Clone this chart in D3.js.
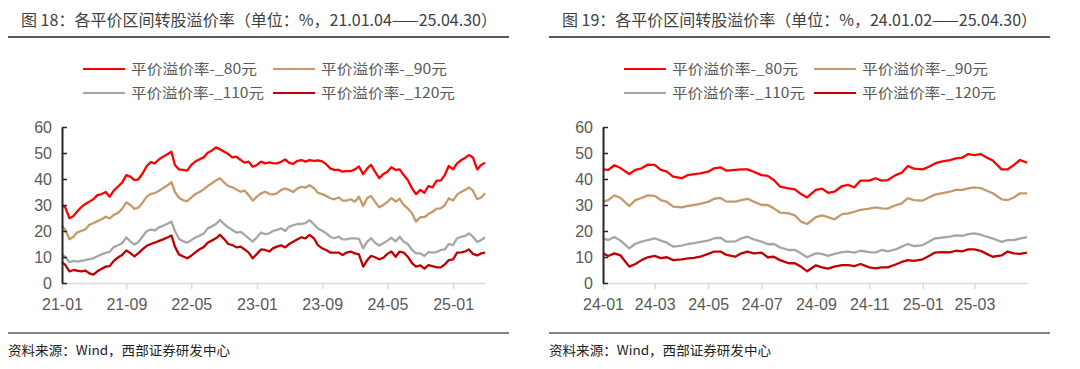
<!DOCTYPE html>
<html><head><meta charset="utf-8">
<script src="https://cdn.jsdelivr.net/npm/d3@7"></script>
<style>body{margin:0;background:#fff}svg{display:block}</style>
</head><body>
<svg id="c" width="1080" height="369"></svg>
<script>
// ---------- DATA ----------
const seriesNames = ["平价溢价率-_80元","平价溢价率-_90元","平价溢价率-_110元","平价溢价率-_120元"];

// Figure 18 (semi-monthly readings, 2021-01-04 .. 2025-04-30)
const dates18 = [
"2021-01-04","2021-01-16","2021-02-01","2021-02-16","2021-03-01","2021-03-16","2021-04-01","2021-04-16","2021-05-01","2021-05-16","2021-06-01","2021-06-16","2021-07-01","2021-07-16","2021-08-01","2021-08-16","2021-09-01","2021-09-16","2021-10-01","2021-10-16","2021-11-01","2021-11-16","2021-12-01","2021-12-16",
"2022-01-01","2022-01-16","2022-02-01","2022-02-16","2022-03-01","2022-03-16","2022-04-01","2022-04-16","2022-05-01","2022-05-16","2022-06-01","2022-06-16","2022-07-01","2022-07-16","2022-08-01","2022-08-16","2022-09-01","2022-09-16","2022-10-01","2022-10-16","2022-11-01","2022-11-16","2022-12-01","2022-12-16",
"2023-01-01","2023-01-16","2023-02-01","2023-02-16","2023-03-01","2023-03-16","2023-04-01","2023-04-16","2023-05-01","2023-05-16","2023-06-01","2023-06-16","2023-07-01","2023-07-16","2023-08-01","2023-08-16","2023-09-01","2023-09-16","2023-10-01","2023-10-16","2023-11-01","2023-11-16","2023-12-01","2023-12-16",
"2024-01-01","2024-01-16","2024-02-01","2024-02-16","2024-03-01","2024-03-16","2024-04-01","2024-04-16","2024-05-01","2024-05-16","2024-06-01","2024-06-16","2024-07-01","2024-07-16","2024-08-01","2024-08-16","2024-09-01","2024-09-16","2024-10-01","2024-10-16","2024-11-01","2024-11-16","2024-12-01","2024-12-16",
"2025-01-01","2025-01-16","2025-02-01","2025-02-16","2025-03-01","2025-03-16","2025-04-01","2025-04-16","2025-04-30"];
const p80_18 = [
30.0,29.1,24.9,25.8,27.4,29.1,30.4,31.3,32.2,33.8,34.2,35.0,33.2,35.5,37.1,38.6,41.5,40.9,39.6,39.9,42.2,45.0,46.5,46.0,47.6,48.6,49.5,50.5,45.4,43.7,43.5,43.2,45.4,46.7,47.6,48.3,
50.1,50.9,52.2,51.4,50.5,49.6,48.3,48.6,47.3,46.3,46.7,44.7,45.4,46.7,46.0,46.4,46.1,46.0,46.6,47.5,46.2,45.8,47.0,47.3,46.7,47.3,47.0,47.2,46.8,45.7,44.1,43.5,43.5,42.8,43.0,43.0,
43.7,44.8,41.9,44.1,45.4,42.8,40.3,41.9,42.8,44.5,43.5,43.7,41.5,39.6,36.4,34.2,35.8,34.7,37.3,36.8,39.4,39.4,41.5,45.0,43.7,46.0,47.3,48.2,49.2,48.3,43.7,45.4,46.3];
const p90_18 = [
22.0,20.5,16.8,17.8,19.4,20.0,20.6,22.4,23.0,23.8,24.5,25.5,24.8,26.2,27.0,28.5,31.0,30.0,28.5,29.0,31.0,33.2,34.3,34.6,35.5,36.5,37.5,38.8,35.0,32.8,31.8,31.5,32.8,34.2,35.0,36.0,
37.3,38.3,39.4,40.3,38.6,37.3,36.8,36.0,35.1,35.5,33.8,31.7,33.2,34.5,35.1,34.2,34.1,34.5,35.8,36.3,35.8,35.0,36.4,37.0,36.7,37.6,36.5,34.7,34.2,33.5,32.6,32.2,32.9,31.7,31.7,32.2,
31.3,33.2,29.6,32.7,33.5,31.2,29.1,30.0,31.2,32.7,31.3,32.4,30.0,28.7,26.8,23.6,25.3,25.3,26.5,27.4,28.6,28.7,29.9,32.6,31.7,34.0,35.1,35.8,36.8,35.5,32.2,32.9,34.5];
const p110_18 = [
11.0,10.0,8.0,8.5,8.2,8.5,8.8,9.2,9.5,10.3,11.0,11.6,12.0,13.8,14.5,15.3,17.5,16.0,14.8,15.8,18.0,20.0,20.5,20.2,21.5,22.0,22.8,23.6,20.0,17.0,16.0,15.5,16.5,17.5,18.2,19.0,
21.0,21.7,22.7,24.2,22.6,21.4,20.4,19.4,19.7,18.5,17.2,15.9,17.6,19.4,18.8,19.1,20.0,20.4,21.0,20.0,21.7,22.2,22.7,22.7,23.0,24.2,22.6,21.0,20.1,19.1,17.8,17.2,17.8,16.8,16.8,17.2,
17.2,17.0,13.3,15.9,17.2,15.5,14.4,15.3,16.3,17.4,16.0,17.8,15.9,15.0,12.7,11.4,11.4,10.4,11.9,11.7,11.9,12.7,12.9,15.0,14.6,17.2,17.8,18.1,19.1,17.8,15.8,16.5,17.6];
const p120_18 = [
8.0,7.0,4.5,5.0,4.8,4.5,4.8,3.7,3.2,4.5,5.5,6.3,6.5,8.5,9.8,10.8,12.5,11.5,10.2,11.5,13.0,14.3,15.0,15.5,16.2,16.8,17.5,18.3,14.0,11.0,10.2,9.5,10.5,11.8,13.0,13.8,
15.5,16.3,17.2,18.5,16.8,15.0,14.6,13.7,14.0,12.9,11.7,9.5,11.2,12.9,12.7,12.1,13.3,14.0,14.5,13.7,15.0,15.9,16.8,17.6,17.2,18.5,17.2,14.6,13.3,12.7,11.7,11.7,11.7,10.8,11.7,12.1,
11.4,11.0,6.3,8.8,10.4,9.9,9.1,9.7,11.2,12.1,10.1,12.1,11.7,10.1,7.6,6.3,6.8,5.5,6.9,6.5,6.0,6.0,7.1,8.8,9.1,11.7,11.8,12.2,12.9,11.2,10.6,11.4,11.7];
const tickDates18 = ["2021-01-04","2021-09-01","2022-05-01","2023-01-01","2023-09-01","2024-05-01","2025-01-01"];
const tickLabels18 = ["21-01","21-09","22-05","23-01","23-09","24-05","25-01"];

// Figure 19 (weekly readings, 2024-01-02 .. 2025-04-30)
const dates19 = [
"2024-01-02","2024-01-08","2024-01-15","2024-01-22","2024-02-01","2024-02-08","2024-02-15","2024-02-22",
"2024-03-01","2024-03-08","2024-03-15","2024-03-22","2024-04-01","2024-04-08","2024-04-15","2024-04-22",
"2024-05-01","2024-05-08","2024-05-15","2024-05-22","2024-06-01","2024-06-08","2024-06-15","2024-06-22",
"2024-07-01","2024-07-08","2024-07-15","2024-07-22","2024-08-01","2024-08-08","2024-08-15","2024-08-22",
"2024-09-01","2024-09-08","2024-09-15","2024-09-22","2024-10-01","2024-10-08","2024-10-15","2024-10-22",
"2024-11-01","2024-11-08","2024-11-15","2024-11-22","2024-12-01","2024-12-08","2024-12-15","2024-12-22",
"2025-01-01","2025-01-08","2025-01-15","2025-01-22","2025-02-01","2025-02-08","2025-02-15","2025-02-22",
"2025-03-01","2025-03-08","2025-03-15","2025-03-22","2025-04-01","2025-04-08","2025-04-15","2025-04-22","2025-04-30"];
const p80_19 = [
43.7,43.5,45.3,44.2,41.9,43.5,44.1,45.5,45.4,43.5,42.8,40.9,40.3,41.5,41.9,42.2,
42.8,44.1,44.5,43.2,43.5,43.7,43.7,42.8,41.5,41.2,39.6,37.1,36.4,36.0,34.2,32.9,
35.8,36.3,34.7,35.1,37.3,37.7,36.8,39.4,39.4,40.3,39.4,39.6,41.5,42.4,45.0,44.0,
43.7,44.7,46.0,46.7,47.3,47.9,48.2,49.6,49.2,49.6,48.3,47.1,43.7,43.7,45.4,47.3,46.3];
const p90_19 = [
31.3,31.9,33.7,32.7,29.6,31.9,32.7,33.7,33.5,31.9,31.2,29.4,29.1,29.7,30.0,30.4,
31.2,32.4,32.7,31.3,31.3,31.9,32.4,31.3,30.0,30.0,28.7,27.1,26.8,26.0,23.6,22.7,
25.3,26.0,25.3,24.5,26.5,26.8,27.4,28.1,28.6,29.1,28.7,28.6,29.9,30.6,32.6,31.9,
31.7,32.9,34.0,34.5,35.1,35.8,35.8,36.4,36.8,36.5,35.5,34.5,32.2,31.9,32.9,34.5,34.5];
const p110_19 = [
17.2,16.5,17.7,16.3,13.3,15.1,15.9,16.5,17.2,16.3,15.5,14.0,14.4,15.0,15.3,15.8,
16.3,17.2,17.4,15.9,16.0,17.2,17.8,16.8,15.9,14.9,15.0,13.7,12.7,12.7,11.4,9.9,
11.4,11.2,10.4,11.2,11.9,12.1,11.7,12.4,11.9,11.7,12.7,12.2,12.9,14.0,15.0,14.2,
14.6,15.9,17.2,17.4,17.8,18.3,18.1,18.8,19.1,18.6,17.8,17.1,15.8,16.5,16.5,17.1,17.6];
const p120_19 = [
11.4,10.4,11.4,10.6,6.3,7.3,8.8,9.9,10.4,9.6,9.9,8.8,9.1,9.5,9.7,10.1,
11.2,12.1,12.1,10.8,10.1,11.4,12.1,11.4,11.7,9.9,10.1,8.8,7.6,7.6,6.3,4.5,
6.8,6.0,5.5,6.3,6.9,6.9,6.5,7.3,6.0,5.6,6.0,6.0,7.1,8.1,8.8,8.5,
9.1,10.4,11.7,11.9,11.8,12.4,12.2,12.9,12.9,12.4,11.2,10.1,10.6,12.1,11.4,11.2,11.7];
const tickDates19 = ["2024-01-02","2024-03-01","2024-05-01","2024-07-01","2024-09-01","2024-11-01","2025-01-01","2025-03-01"];
const tickLabels19 = ["24-01","24-03","24-05","24-07","24-09","24-11","25-01","25-03"];

const yTicks = [0,10,20,30,40,50,60];

// ---------- STYLE ----------
const colors = ["#FF0000","#C49A6C","#A6A6A6","#C00000"];
const cjk = "'Noto Sans CJK SC','Noto Sans',sans-serif";
const latin = "'Liberation Sans',Arial,sans-serif";

const svg = d3.select("#c");
const parse = d3.timeParse("%Y-%m-%d");

function panel(ox, title, titleLen, dates, series, tickDates, tickLabels, xEnd) {
  const g = svg.append("g").attr("transform", `translate(${ox},0)`);

  // title + rules
  g.append("text").attr("x", 21).attr("y", 25.5)
    .attr("font-family", cjk).attr("font-size", 16).attr("fill", "#404040")
    .attr("textLength", titleLen).attr("lengthAdjust", "spacingAndGlyphs").text(title);
  g.append("line").attr("x1", 8).attr("x2", 509).attr("y1", 37).attr("y2", 37)
    .attr("stroke", "#595959").attr("stroke-width", 2);
  g.append("line").attr("x1", 8).attr("x2", 509).attr("y1", 333).attr("y2", 333)
    .attr("stroke", "#595959").attr("stroke-width", 1.5);
  g.append("text").attr("x", 8).attr("y", 355)
    .attr("font-family", cjk).attr("font-size", 13).attr("fill", "#222")
    .attr("textLength", 222).attr("lengthAdjust", "spacingAndGlyphs")
    .text("资料来源：Wind，西部证券研发中心");

  // legend
  const legPos = [[83, 69, 126], [273, 69, 126], [83, 93, 133], [273, 93, 134]];
  seriesNames.forEach((n, i) => {
    const [lx, ly, tl] = legPos[i];
    g.append("line").attr("x1", lx).attr("x2", lx + 42).attr("y1", ly).attr("y2", ly)
      .attr("stroke", colors[i]).attr("stroke-width", 2);
    g.append("text").attr("x", lx + 48).attr("y", ly + 5)
      .attr("font-family", cjk).attr("font-size", 14).attr("fill", "#595959")
      .attr("textLength", tl).attr("lengthAdjust", "spacingAndGlyphs").text(n);
  });

  const pd = dates.map(parse);
  const x = d3.scaleTime().domain([pd[0], pd[pd.length - 1]]).range([62, xEnd]);
  const y = d3.scaleLinear().domain([0, 60]).range([283, 127]);

  // x axis
  const xa = g.append("g").attr("transform", "translate(0,283)")
    .call(d3.axisBottom(x).tickValues(tickDates.map(parse))
      .tickFormat((d, i) => tickLabels[i]).tickSize(6).tickSizeOuter(0).tickPadding(10));
  xa.select(".domain").attr("stroke", "#D9D9D9").attr("stroke-width", 1.5);
  xa.selectAll(".tick line").attr("stroke", "#D9D9D9").attr("stroke-width", 1.5);
  xa.selectAll("text").attr("font-family", latin).attr("font-size", 16).attr("fill", "#595959");

  // lines
  const line = d3.line().x(d => x(d[0])).y(d => y(d[1]));
  series.forEach((s, i) => {
    const n = Math.min(pd.length, s.length);
    const pts = d3.range(n).map(j => [pd[j], s[j]]);
    g.append("path").datum(pts).attr("d", line).attr("fill", "none")
      .attr("stroke", colors[i]).attr("stroke-width", 2.3).attr("stroke-linejoin", "round");
  });

  // y axis
  const ya = g.append("g").attr("transform", "translate(62,0)")
    .call(d3.axisLeft(y).tickValues(yTicks).tickSize(-5).tickSizeOuter(0).tickPadding(10));
  ya.select(".domain").attr("stroke", "#262626").attr("stroke-width", 2);
  ya.selectAll(".tick line").attr("stroke", "#262626").attr("stroke-width", 1.5);
  ya.selectAll("text").attr("font-family", latin).attr("font-size", 16).attr("fill", "#595959");
}

panel(0, "图 18：各平价区间转股溢价率（单位：%，21.01.04——25.04.30）", 476,
  dates18, [p80_18, p90_18, p110_18, p120_18], tickDates18, tickLabels18, 485);
panel(541, "图 19：各平价区间转股溢价率（单位：%，24.01.02——25.04.30）", 475,
  dates19, [p80_19, p90_19, p110_19, p120_19], tickDates19, tickLabels19, 486);
</script>
</body></html>
